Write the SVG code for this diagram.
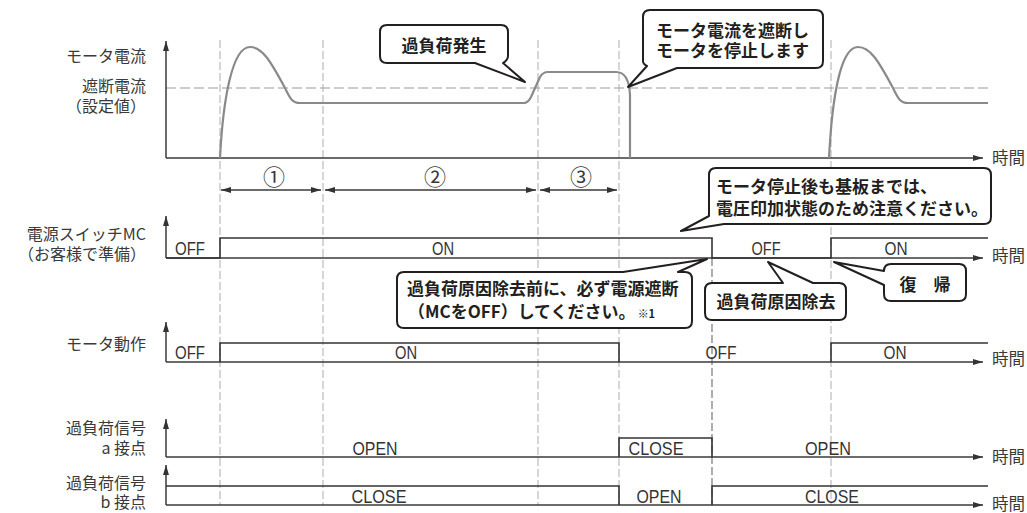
<svg xmlns="http://www.w3.org/2000/svg" width="1027" height="513" viewBox="0 0 1027 513">
<style>
.lbl{font-family:'Noto Sans CJK JP','Noto Sans CJK SC',sans-serif;font-size:16px;fill:#3a3a3a;text-anchor:end}
.tm{font-family:'Noto Sans CJK JP','Noto Sans CJK SC',sans-serif;font-size:16.5px;fill:#3a3a3a}
.st{font-family:'Liberation Sans',Arial,sans-serif;font-size:18.5px;fill:#333;text-anchor:middle}
.co{font-family:'Noto Sans CJK JP','Noto Sans CJK SC',sans-serif;font-size:17px;font-weight:bold;fill:#231f20}
.num{font-family:'Noto Sans CJK JP','Noto Sans CJK SC',sans-serif;font-size:22px;fill:#3a3a3a;text-anchor:middle}
.box{fill:#fff;stroke:#231f20;stroke-width:2;stroke-linejoin:round}
.axis{fill:none;stroke:#3a3a3a;stroke-width:1.5}
.sig{fill:none;stroke:#333;stroke-width:1.6}
.vd{stroke:#bbb;stroke-width:1.2;stroke-dasharray:8 3}
.vd2{stroke:#8c8c8c;stroke-width:1.4;stroke-dasharray:8 3}
.hd{stroke:#9a9a9a;stroke-width:1.2;stroke-dasharray:10 4}
.wave{fill:none;stroke:#8a8a8a;stroke-width:2.2;stroke-linejoin:round}
</style>
<defs>
<marker id="ax" viewBox="0 0 10 6" refX="10" refY="3" markerWidth="10" markerHeight="6" markerUnits="userSpaceOnUse" orient="auto"><path d="M0,0 L10,3 L0,6 Z" fill="#333"/></marker>
<marker id="ra" viewBox="0 0 10 6" refX="10" refY="3" markerWidth="10" markerHeight="6" markerUnits="userSpaceOnUse" orient="auto-start-reverse"><path d="M0,0 L10,3 L0,6 Z" fill="#333"/></marker>
</defs>
<rect width="1027" height="513" fill="#fff"/>

<g id="guides">
<line class="vd" x1="220" y1="40" x2="220" y2="505"/>
<line class="vd" x1="323" y1="40" x2="323" y2="505"/>
<line class="vd" x1="538" y1="40" x2="538" y2="505"/>
<line class="vd" x1="619" y1="40" x2="619" y2="505"/>
<line class="vd" x1="831" y1="40" x2="831" y2="505"/>
<line class="vd2" x1="712" y1="258" x2="712" y2="505"/>
<line class="hd" x1="166" y1="88" x2="988" y2="88"/>
</g>

<g id="motor-current">
<line class="axis" x1="166" y1="158" x2="166" y2="41" marker-end="url(#ax)"/>
<line class="axis" x1="166" y1="158" x2="983" y2="158" marker-end="url(#ax)"/>
<path class="wave" d="M220,158 C223,100 232,47 250,47 C262,47 270,60 285,88 C290,98 292,103 300,103 L524,103 Q528,103 531,97 L540,77 Q543,72 548,72 L616,72 Q629,72 630,95 L630,158"/>
<path class="wave" d="M829,158 C832,100 840,47 858,47 C870,47 878,60 893,88 C898,98 900,103 908,103 L988,103"/>
<text class="lbl" x="146" y="62">モータ電流</text>
<text class="lbl" x="146" y="92">遮断電流</text>
<text class="lbl" x="146" y="111.5">（設定値）</text>
<text class="tm" x="992" y="163.5">時間</text>
</g>

<g id="ranges">
<line class="axis" x1="221" y1="190" x2="321" y2="190" marker-start="url(#ra)" marker-end="url(#ra)"/>
<line class="axis" x1="325" y1="190" x2="536" y2="190" marker-start="url(#ra)" marker-end="url(#ra)"/>
<line class="axis" x1="540" y1="190" x2="617" y2="190" marker-start="url(#ra)" marker-end="url(#ra)"/>
<text class="num" x="274" y="185">①</text>
<text class="num" x="435" y="185">②</text>
<text class="num" x="581" y="185">③</text>
</g>

<g id="power-switch-mc">
<line class="axis" x1="166" y1="258" x2="166" y2="216" marker-end="url(#ax)"/>
<line class="axis" x1="166" y1="258" x2="983" y2="258" marker-end="url(#ax)"/>
<path class="sig" d="M166,258 H220 V238 H712 V258 H831 V238 H988"/>
<text class="lbl" x="146" y="240">電源スイッチMC</text>
<text class="lbl" x="146" y="260">（お客様で準備）</text>
<text class="st" x="190" y="254.5" textLength="30" lengthAdjust="spacingAndGlyphs">OFF</text>
<text class="st" x="443" y="254.5" textLength="22" lengthAdjust="spacingAndGlyphs">ON</text>
<text class="st" x="766" y="254.5" textLength="29" lengthAdjust="spacingAndGlyphs">OFF</text>
<text class="st" x="896" y="254.5" textLength="23" lengthAdjust="spacingAndGlyphs">ON</text>
<text class="tm" x="992" y="262">時間</text>
</g>

<g id="motor-operation">
<line class="axis" x1="166" y1="362" x2="166" y2="322" marker-end="url(#ax)"/>
<line class="axis" x1="166" y1="362" x2="983" y2="362" marker-end="url(#ax)"/>
<path class="sig" d="M220,362 V343 H619 V362"/>
<path class="sig" d="M831,362 V343 H988"/>
<text class="lbl" x="146" y="350">モータ動作</text>
<text class="st" x="190" y="358.5" textLength="30" lengthAdjust="spacingAndGlyphs">OFF</text>
<text class="st" x="406" y="358.5" textLength="22" lengthAdjust="spacingAndGlyphs">ON</text>
<text class="st" x="721" y="358.5" textLength="31" lengthAdjust="spacingAndGlyphs">OFF</text>
<text class="st" x="895" y="358.5" textLength="23" lengthAdjust="spacingAndGlyphs">ON</text>
<text class="tm" x="992" y="364.5">時間</text>
</g>

<g id="overload-a">
<line class="axis" x1="166" y1="457" x2="166" y2="419" marker-end="url(#ax)"/>
<line class="axis" x1="166" y1="457" x2="983" y2="457" marker-end="url(#ax)"/>
<path class="sig" d="M619,457 V438 H712 V457"/>
<text class="lbl" x="146" y="434">過負荷信号</text>
<text class="lbl" x="146" y="454">a 接点</text>
<text class="st" x="375" y="454.5" textLength="45" lengthAdjust="spacingAndGlyphs">OPEN</text>
<text class="st" x="656" y="455" textLength="55" lengthAdjust="spacingAndGlyphs">CLOSE</text>
<text class="st" x="828" y="454.5" textLength="46" lengthAdjust="spacingAndGlyphs">OPEN</text>
<text class="tm" x="992" y="463">時間</text>
</g>

<g id="overload-b">
<line class="axis" x1="166" y1="505" x2="166" y2="465" marker-end="url(#ax)"/>
<line class="axis" x1="166" y1="505" x2="983" y2="505" marker-end="url(#ax)"/>
<path class="sig" d="M166,486 H619 V505"/>
<path class="sig" d="M712,505 V486 H988"/>
<text class="lbl" x="146" y="489">過負荷信号</text>
<text class="lbl" x="146" y="508">b 接点</text>
<text class="st" x="379" y="503" textLength="55" lengthAdjust="spacingAndGlyphs">CLOSE</text>
<text class="st" x="659" y="503" textLength="45" lengthAdjust="spacingAndGlyphs">OPEN</text>
<text class="st" x="832" y="503" textLength="54" lengthAdjust="spacingAndGlyphs">CLOSE</text>
<text class="tm" x="992" y="510">時間</text>
</g>

<g id="callout-overload">
<path class="box" d="M387,25 H501 Q508,25 508,32 V56 Q508,60 503,63 L525,82 L475,63 H387 Q380,63 380,56 V32 Q380,25 387,25 Z"/>
<text class="co" x="444" y="51.5" text-anchor="middle">過負荷発生</text>
</g>

<g id="callout-stop">
<path class="box" d="M650,10 H816 Q823,10 823,17 V61 Q823,68 816,68 H677 L628,87 L647,66 Q643,64 643,61 V17 Q643,10 650,10 Z"/>
<text class="co" x="656" y="37">モータ電流を遮断し</text>
<text class="co" x="656" y="56.5">モータを停止します</text>
</g>

<g id="callout-voltage">
<path class="box" d="M716,168 H984 Q991,168 991,175 V217 Q991,224 984,224 H724 L681,231 L709,216 V175 Q709,168 716,168 Z"/>
<text class="co" x="716" y="193">モータ停止後も基板までは、</text>
<text class="co" x="716" y="214.5">電圧印加状態のため注意ください。</text>
</g>

<g id="callout-cutoff">
<path class="box" d="M404,272 H623 L707,259 L678,272 H685 Q692,272 692,279 V321 Q692,328 685,328 H404 Q397,328 397,321 V279 Q397,272 404,272 Z"/>
<text class="co" x="407" y="295">過負荷原因除去前に、必ず電源遮断</text>
<text class="co" x="408" y="318">（MCをOFF）してください。<tspan font-size="11" dx="2">※1</tspan></text>
</g>

<g id="callout-remove">
<path class="box" d="M712,283 H783 L768,262 L813,283 H839 Q846,283 846,290 V313 Q846,320 839,320 H712 Q705,320 705,313 V290 Q705,283 712,283 Z"/>
<text class="co" x="776" y="308" text-anchor="middle">過負荷原因除去</text>
</g>

<g id="callout-recover">
<path class="box" d="M891,264 H959 Q966,264 966,271 V294 Q966,301 959,301 H891 Q884,301 884,294 V285 L834,262 L884,271 Q884,264 891,264 Z"/>
<text class="co" x="925" y="291" text-anchor="middle">復　帰</text>
</g>
</svg>
